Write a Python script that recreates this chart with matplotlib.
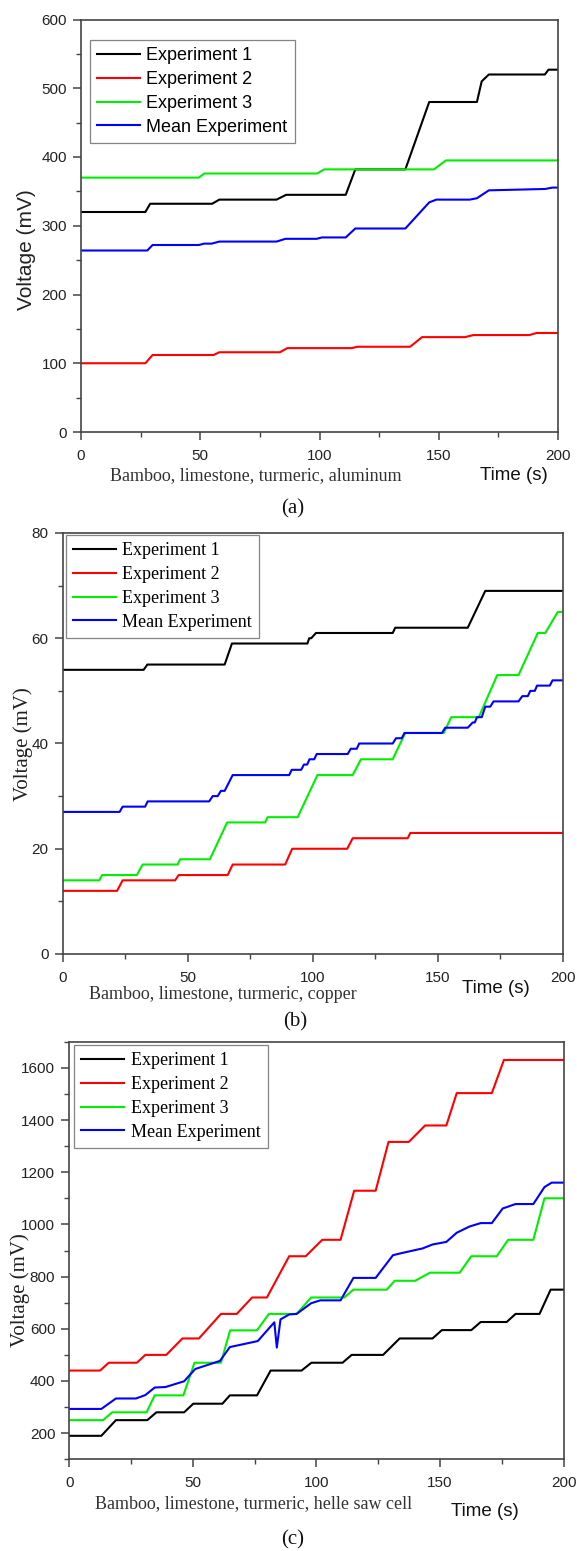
import matplotlib
matplotlib.use('Agg')
import matplotlib.pyplot as plt

# Voltage vs time for three cell builds, three runs each plus the mean

# (a) bamboo, limestone, turmeric, aluminum
a_t1 = [0, 27, 29, 55, 58, 82, 86, 111, 115, 136, 146, 166, 168, 171, 194.5, 196, 200]
a_v1 = [320, 320, 332, 332, 338, 338, 345, 345, 382, 382, 480, 480, 510, 520, 520, 527, 527]
a_t2 = [0, 27, 30, 55.6, 58, 83.4, 86.5, 113.5, 115.8, 138, 143, 161, 164.5, 188, 191, 200]
a_v2 = [100, 100, 112, 112, 116, 116, 122, 122, 124, 124, 138, 138, 141, 141, 144, 144]
a_t3 = [0, 49.4, 51.7, 99, 102, 148, 153, 200]
a_v3 = [370, 370, 376, 376, 382, 382, 395, 395]
a_tm = [0, 27.8, 30, 49.4, 51.7, 54.8, 58, 82, 85.7, 98.8, 101, 111, 115, 136, 146, 149,
        163, 166, 171, 194.6, 197.7, 200]
a_vm = [264, 264, 272, 272, 274, 274, 277, 277, 281, 281, 283, 283, 296, 296, 334, 338,
        338, 340, 351.5, 353.5, 355.5, 355.5]

# (b) bamboo, limestone, turmeric, copper
b_t1 = [0, 32.4, 33.9, 64.8, 67.7, 97.9, 98.6, 99.4, 101.3, 132, 133, 162, 169, 200]
b_v1 = [54, 54, 55, 55, 59, 59, 60, 60, 61, 61, 62, 62, 69, 69]
b_t2 = [0, 21.8, 24, 45, 46.4, 66, 68, 89, 91.8, 113.8, 116, 138, 139, 200]
b_v2 = [12, 12, 14, 14, 15, 15, 17, 17, 20, 20, 22, 22, 23, 23]
b_t3 = [0, 14.7, 15.8, 29.7, 32, 46, 47, 58.9, 65.8, 81, 82, 94, 101.9, 116, 119.3,
        132, 137, 152.4, 155.4, 166.4, 173.8, 182.3, 190, 193, 198, 200]
b_v3 = [14, 14, 15, 15, 17, 17, 18, 18, 25, 25, 26, 26, 34, 34, 37,
        37, 42, 42, 45, 45, 53, 53, 61, 61, 65, 65]
b_tm = [0, 22.8, 24, 33, 34, 58.6, 60, 62, 63.3, 64.8, 68, 90.6, 91.6, 95.4, 96.5, 97.8,
        98.7, 100.6, 101.6, 114, 115.2, 117.6, 118.6, 132, 133.3, 135.6, 136.7, 151.7,
        153, 162, 164, 164.8, 165.7, 167.6, 169, 171, 172.3, 182.3, 183.8, 186, 187,
        188.8, 189.7, 194.8, 195.9, 200]
b_vm = [27, 27, 28, 28, 29, 29, 30, 30, 31, 31, 34, 34, 35, 35, 36, 36,
        37, 37, 38, 38, 39, 39, 40, 40, 41, 41, 42, 42,
        43, 43, 44, 44, 45, 45, 47, 47, 48, 48, 49, 49, 50,
        50, 51, 51, 52, 52]

# (c) bamboo, limestone, turmeric, helle saw cell
c_t1 = [0, 13, 18.9, 31.6, 35.3, 46.5, 50.2, 62, 65, 76, 81.5, 94, 98, 110.6, 114.3,
        127, 133.7, 147, 150.8, 162.7, 166.5, 177, 180.6, 190.3, 194.8, 200]
c_v1 = [190, 190, 250, 250, 280, 280, 313, 313, 345, 345, 440, 440, 470, 470, 500,
        500, 563, 563, 595, 595, 626, 626, 657, 657, 750, 750]
c_t2 = [0, 12.5, 16, 27.4, 30.8, 39.3, 45.8, 52.5, 61.4, 67.8, 74, 80, 89, 95.7, 102.4,
        109.8, 115.3, 124, 129.2, 137.4, 144, 152.6, 156.8, 171, 175.9, 200]
c_v2 = [440, 440, 470, 470, 500, 500, 563, 563, 657, 657, 720, 720, 878, 878, 941,
        941, 1129, 1129, 1316, 1316, 1379, 1379, 1503, 1503, 1630, 1630]
c_t3 = [0, 13.7, 17.4, 31.3, 34.6, 46.2, 50.7, 61.4, 65.1, 76, 80.8, 92, 97.9, 111.3,
        115, 128.5, 131.7, 140, 146, 158, 162.7, 173, 177.6, 187.8, 192.3, 200]
c_v3 = [250, 250, 280, 280, 345, 345, 470, 470, 594, 594, 657, 657, 720, 720,
        750, 750, 784, 784, 815, 815, 878, 878, 941, 941, 1100, 1100]
c_tm = [0, 13, 18.9, 27, 30.8, 34.6, 39, 46.5, 51, 61, 65, 76.3, 83, 84, 85.5, 89, 92,
        97.9, 101.6, 109.8, 115, 124, 131, 134, 143, 147, 152.6, 156.8, 162, 166.5,
        171, 175.4, 180.6, 187.8, 192.3, 195.2, 200]
c_vm = [293, 293, 333, 333, 346, 375, 377, 399, 446, 477, 530, 553, 625, 528, 636, 655, 657,
        698, 709, 709, 795, 795, 882, 889, 908, 923, 933, 968, 992, 1005,
        1005, 1061, 1078, 1078, 1143, 1160, 1160]

labels = ['Experiment 1', 'Experiment 2', 'Experiment 3', 'Mean Experiment']
colors = ['#000000', '#ff0000', '#00ee00', '#0000ff']

SANS = 'Liberation Sans'
SERIF = 'Liberation Serif'

W, H = 577, 1551
fig = plt.figure(figsize=(W / 100, H / 100), dpi=100)


def fx(x):
    return x / W


def fy(y):
    return 1 - y / H


def panel(box, series, ylim, major, minor, legend_font, legend_box, ylab_font, ylab_xy,
          desc, desc_xy, time_xy, letter_xy):
    left, top, right, bottom = box
    ax = fig.add_axes([fx(left), fy(bottom), fx(right - left), (bottom - top) / H])
    for (t, v), lab, c in zip(series, labels, colors):
        ax.plot(t, v, color=c, lw=1.5, label=lab)
    ax.set_xlim(0, 200)
    ax.set_ylim(*ylim)
    ax.set_xticks(range(0, 201, 50))
    ax.set_xticks(range(0, 201, 25), minor=True)
    first = ylim[0] if ylim[0] % major == 0 else ylim[0] + major - ylim[0] % major
    ax.set_yticks(range(first, ylim[1] + 1, major))
    ax.set_yticks(range(ylim[0], ylim[1] + 1, minor), minor=True)
    for s in ax.spines.values():
        s.set_color('#444444')
        s.set_linewidth(1.2)
    ax.tick_params(which='major', direction='out', length=6, width=1.1, color='#444444',
                   labelsize=11, labelcolor='#222222', pad=4)
    ax.tick_params(which='minor', direction='out', length=3.5, width=1.0, color='#444444')
    for lb in ax.get_xticklabels() + ax.get_yticklabels():
        lb.set_fontfamily(SANS)
    ax.tick_params(axis='x', pad=6)

    lx, ly = legend_box
    leg = ax.legend(loc='upper left', bbox_to_anchor=(fx(lx), fy(ly)),
                    bbox_transform=fig.transFigure, borderaxespad=0,
                    prop={'family': legend_font, 'size': 13}, frameon=True,
                    fancybox=False, handlelength=2.4, handletextpad=0.35,
                    labelspacing=0.38, borderpad=0.4)
    leg.get_frame().set_edgecolor('#666666')
    leg.get_frame().set_linewidth(0.9)

    fig.text(fx(ylab_xy[0]), fy(ylab_xy[1]), 'Voltage (mV)', rotation=90,
             ha='center', va='center', fontsize=15, family=ylab_font, color='#222222')
    fig.text(fx(desc_xy[0]), fy(desc_xy[1]), desc, ha='center', va='center',
             fontsize=13, family=SERIF, color='#333333')
    fig.text(fx(time_xy[0]), fy(time_xy[1]), 'Time (s)', ha='center', va='center',
             fontsize=13.5, family=SANS, color='#111111')
    fig.text(fx(letter_xy[0]), fy(letter_xy[1]), letter_xy[2], ha='center', va='center',
             fontsize=15, family=SERIF, color='#111111')
    return ax


panel((81, 19.5, 558, 432),
      [(a_t1, a_v1), (a_t2, a_v2), (a_t3, a_v3), (a_tm, a_vm)],
      (0, 600), 100, 50, SANS, (89.5, 40), SANS, (27, 250),
      'Bamboo, limestone, turmeric, aluminum', (256, 476), (514, 475), (293, 509, '(a)'))

panel((62.6, 533, 562.8, 954),
      [(b_t1, b_v1), (b_t2, b_v2), (b_t3, b_v3), (b_tm, b_vm)],
      (0, 80), 20, 10, SERIF, (65.5, 535), SERIF, (23, 744),
      'Bamboo, limestone, turmeric, copper', (223, 995), (496, 988), (295, 1022, '(b)'))

panel((69.2, 1041.7, 563.5, 1459.3),
      [(c_t1, c_v1), (c_t2, c_v2), (c_t3, c_v3), (c_tm, c_vm)],
      (100, 1700), 200, 100, SERIF, (73.7, 1045), SERIF, (20, 1290),
      'Bamboo, limestone, turmeric, helle saw cell', (254, 1504), (485, 1511), (293, 1540, '(c)'))

fig.savefig('out.png', dpi=100)
